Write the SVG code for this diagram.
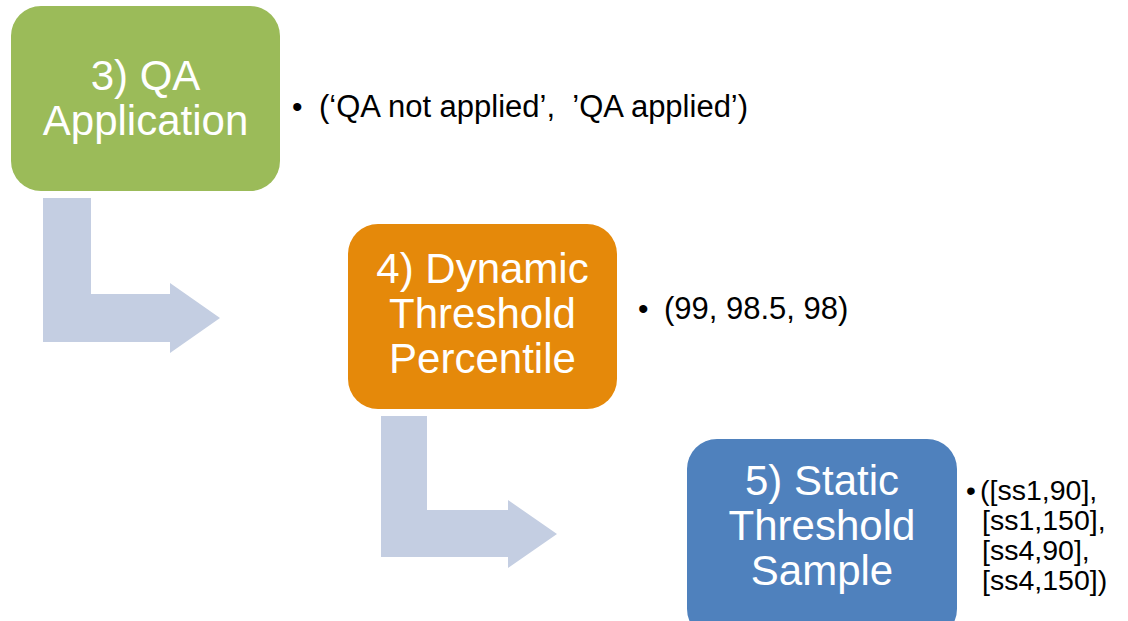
<svg xmlns="http://www.w3.org/2000/svg" width="1128" height="621" viewBox="0 0 1128 621">
<style>
.box-text{font-family:"Liberation Sans",Arial,sans-serif;font-size:42px;fill:#ffffff;text-anchor:middle}
.bullet{font-family:"Liberation Sans",Arial,sans-serif;fill:#000000}
.arrow{fill:#C4CEE2}
</style>
<rect width="1128" height="621" fill="#ffffff"/>
<g id="connectors">
<path class="arrow" d="M43,198 H91 V294 H170 V283 L220,318 L170,353 V342 H43 Z"/>
<path class="arrow" d="M381,416 H427 V510 H508 V500 L557,534 L508,568 V557 H381 Z"/>
</g>
<g id="node-qa">
<rect x="11" y="6" width="269" height="185" rx="30" ry="30" fill="#9BBB59"/>
<text class="box-text" x="145.5" y="90">3) QA</text>
<text class="box-text" x="145.5" y="135">Application</text>
</g>
<g id="node-qa-options">
<text class="bullet" x="292" y="117" font-size="30">•</text>
<text class="bullet" x="319" y="117" font-size="31" xml:space="preserve">(‘QA not applied’,  ’QA applied’)</text>
</g>
<g id="node-dynamic">
<rect x="348" y="224" width="269" height="185" rx="30" ry="30" fill="#E5890A"/>
<text class="box-text" x="482.5" y="283">4) Dynamic</text>
<text class="box-text" x="482.5" y="328">Threshold</text>
<text class="box-text" x="482.5" y="373">Percentile</text>
</g>
<g id="node-dynamic-options">
<text class="bullet" x="638" y="319" font-size="30">•</text>
<text class="bullet" x="664" y="319" font-size="31">(99, 98.5, 98)</text>
</g>
<g id="node-static">
<rect x="687" y="439" width="270" height="200" rx="30" ry="30" fill="#4F81BD"/>
<text class="box-text" x="822" y="495">5) Static</text>
<text class="box-text" x="822" y="540">Threshold</text>
<text class="box-text" x="822" y="585">Sample</text>
</g>
<g id="node-static-options">
<text class="bullet" x="966" y="500" font-size="28">•</text>
<text class="bullet" x="980" y="500" font-size="28.5">([ss1,90],</text>
<text class="bullet" x="982" y="530" font-size="28.5">[ss1,150],</text>
<text class="bullet" x="982" y="560" font-size="28.5">[ss4,90],</text>
<text class="bullet" x="982" y="590" font-size="28.5">[ss4,150])</text>
</g>
</svg>
